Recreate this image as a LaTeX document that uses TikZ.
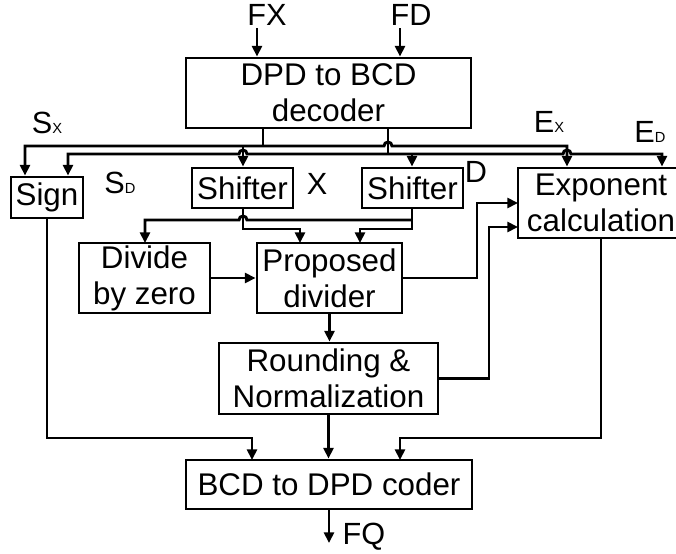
\documentclass[tikz,border=0pt]{standalone}
\usepackage{fontspec}
\setmainfont{Liberation Sans}
\usetikzlibrary{arrows.meta, positioning}
\tikzset{
  my line style/.style={
    >={Triangle[length=8pt,width=7.5pt]}, % arrow tip style
    line width=2.2pt,                     % default line thickness
  }
}
\tikzset{
  block/.style={draw, rectangle, inner sep=0pt, align=center,
    font=\fontsize{23.5}{27}\selectfont},
  sig label/.style={inner sep=0pt, font=\fontsize{23}{27}\selectfont},
}
% small index letter sitting on the baseline
\newcommand{\subsig}[1]{{\fontsize{11}{11}\selectfont #1}}

\begin{document}
\begin{tikzpicture}[x=0.75pt, y=-0.75pt, my line style]
    \clip (0,0) rectangle (676,554);

    % Blocks
    \node[block, minimum width=213.75pt, minimum height=52.5pt] (dec) at (328.5,93) {DPD to BCD\\decoder};
    \node[block, minimum width=54pt, minimum height=30.75pt] (sign) at (47,197.5) {Sign};
    \node[block, minimum width=75.75pt, minimum height=30pt] (shx) at (242.5,188) {Shifter};
    \node[block, minimum width=75.75pt, minimum height=30pt] (shd) at (412.5,188) {Shifter};
    \node[block, minimum width=124.5pt, minimum height=52.5pt] (expo) at (601,203) {Exponent\\calculation};
    \node[block, minimum width=98.25pt, minimum height=52.5pt] (divz) at (144.5,278) {Divide\\by zero};
    \node[block, minimum width=108.75pt, minimum height=52.5pt] (prop) at (329.5,278) {Proposed\\divider};
    \node[block, minimum width=164.25pt, minimum height=53.25pt] (round) at (328.5,378.5) {Rounding \&\\Normalization};
    \node[block, minimum width=214.5pt, minimum height=36.75pt] (coder) at (329,484.5) {BCD to DPD coder};

    % Signal names
    \node[sig label] (fxlbl) at (267,15) {FX};
    \node[sig label] (fdlbl) at (411,15) {FD};
    \node[sig label] (sxlbl) at (47,123) {S\subsig{X}};
    \node[sig label] (sdlbl) at (120,183) {S\subsig{D}};
    \node[sig label] (xlbl) at (317,184) {X};
    \node[sig label] (dlbl) at (476,172) {D};
    \node[sig label] (exlbl) at (549,122) {E\subsig{X}};
    \node[sig label] (edlbl) at (650,132) {E\subsig{D}};
    \node[sig label] (fqlbl) at (364,537) {FQ};

    % Operand inputs
    \coordinate (fxin) at (257,28);
    \coordinate (fdin) at (400,28);
    \draw[->] (fxin) -- (fxin |- dec.north);
    \draw[->] (fdin) -- (fdin |- dec.north);

    % Bus taps below the decoder
    \coordinate (xtap) at (263,146);
    \coordinate (dtap) at (388,154);
    \coordinate (sxdrop) at (25,146);
    \coordinate (sddrop) at (68,154);
    \coordinate (exdrop) at (567,146);
    \coordinate (eddrop) at (662,154);
    \coordinate (shxdrop) at (243,146);
    \coordinate (shddrop) at (412,154);

    \draw (xtap |- dec.south) -- (xtap);
    \draw (dtap |- dec.south) -- (dtap);

    % X bus, hops over the D tap
    \draw[<->] (sxdrop |- sign.north) -- (sxdrop) -- (384,146)
        arc[start angle=180, end angle=0, radius=3pt] -- (exdrop) -- (exdrop |- expo.north);
    % D bus, hops over the X drops
    \draw[<->] (sddrop |- sign.north) -- (sddrop) -- (239,154)
        arc[start angle=180, end angle=0, radius=3pt] -- (563,154)
        arc[start angle=180, end angle=0, radius=3pt] -- (eddrop) -- (eddrop |- expo.north);
    \draw[->] (shxdrop) -- (shxdrop |- shx.north);
    \draw[->] (shddrop) -- (shddrop |- shd.north);

    % Shifter outputs
    \coordinate (xout) at (243,229);
    \coordinate (dout) at (412,229);
    \coordinate (dsplit) at (412,220);
    \coordinate (propinx) at (300,243);
    \coordinate (propind) at (360,243);
    \coordinate (divin) at (145,243);
    \draw[->] (xout |- shx.south) -- (xout) -| (propinx);
    \draw[->] (dout |- shd.south) -- (dout) -| (propind);
    \draw[->] (dsplit) -- (247,220)
        arc[start angle=0, end angle=180, radius=3pt] -| (divin);

    % Divider path
    \draw[->] (divz.east) -- (prop.west);
    \draw[->] (prop.south) -- (prop.south |- round.north);
    \draw[->] (round.south) -- (round.south |- coder.north);

    % Feedback to the exponent unit
    \coordinate (pturn) at (477,203);
    \coordinate (expoin1) at (518,203);
    \coordinate (rturn) at (489,227);
    \coordinate (expoin2) at (518,227);
    \draw[->] (prop.east) -| (pturn) -- (expoin1);
    \draw[->] (round.east) -| (rturn) -- (expoin2);

    % Into the coder
    \coordinate (sturn) at (47,438);
    \coordinate (codins) at (252,460);
    \coordinate (codine) at (400,460);
    \draw[->] (sign.south) -- (sign.south |- sturn) -| (codins);
    \draw[->] (expo.south) -- (expo.south |- sturn) -| (codine);

    % Result
    \coordinate (fqout) at (329,543);
    \draw[->] (coder.south) -- (coder.south |- fqout);
\end{tikzpicture}
\end{document}
